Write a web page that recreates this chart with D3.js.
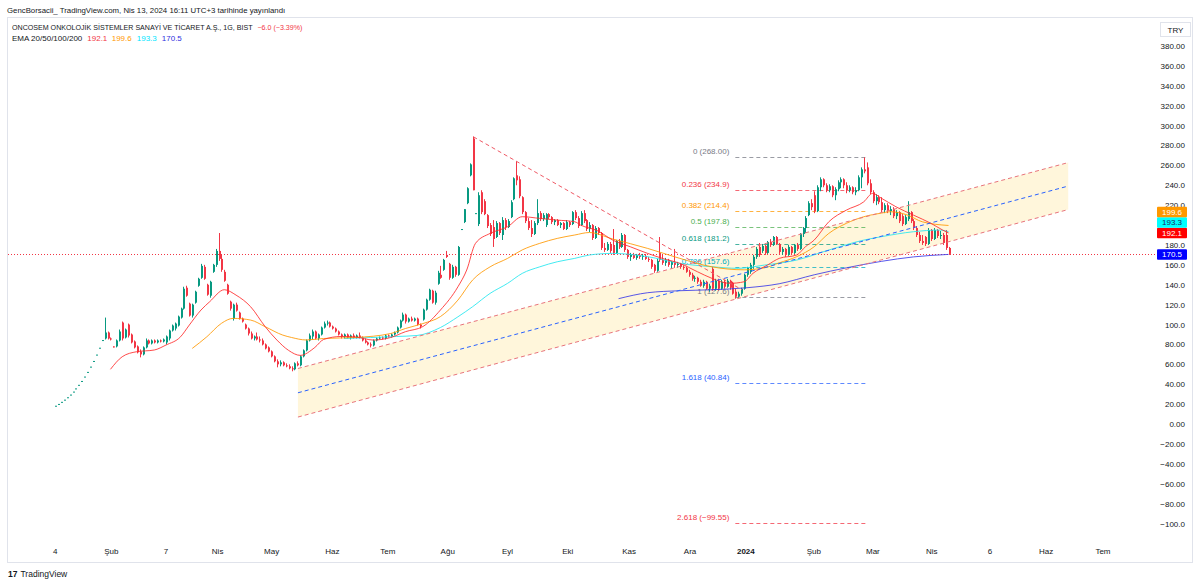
<!DOCTYPE html>
<html>
<head>
<meta charset="utf-8">
<script src="https://cdn.jsdelivr.net/npm/d3@7"></script>
<style>
html,body{margin:0;padding:0;background:#ffffff;}
svg{display:block;}
text{font-family:"Liberation Sans",Arial,sans-serif;}
</style>
</head>
<body>
<svg id="chart" width="1200" height="583"></svg>
<script>
// ---------------- DATA ----------------
// daily OHLC (bars 0-16: limit-up days, open=high=low=close)
const opens = [
18.4,20.2,22.3,24.5,26.9,29.6,32.6,35.8,39.4,43.3,47.7,52.4,57.7,63.4,69.8,76.7,84.4,
86,92,86,
78,78,84,102,87,100,90,83,78,73,
70,77,84,81,84,82,84,83,82,86,
94,96,99,107,116,137,121,109,122,139,
147,158,140,129,153,160,174,166,153,140,
123,106,120,112,106,100,96,91,86,88,
85,84,80,77,73,68,63,60,62,59,
58,56,55,61,59,68,74,84,88,93,
86,90,97,101,102,98,96,93,90,88,
90,87,89,87,89,87,84,82,80,79,
84,86,87,86,89,88,90,92,97,104,
110,103,106,104,106,100,105,115,125,134,
122,141,150,155,170,161,147,158,150,196,
203,222,250,287,212,201,233,224,210,200,
198,188,202,190,205,198,208,226,250,246,
228,213,204,197,191,202,212,206,200,211,
208,203,205,200,202,196,203,201,213,207,
200,212,205,196,200,187,197,192,177,175,
181,180,172,184,178,190,175,168,170,167,
170,168,169,166,165,160,154,172,165,162,
165,160,163,160,161,158,157,153,150,146,
147,143,139,143,136,156,136,144,136,143,
138,144,142,133,128,131,136,150,153,160,
168,178,174,179,172,183,180,188,181,173,
176,170,178,172,180,176,191,197,210,222,
230,214,238,246,240,235,239,230,236,243,
246,240,235,238,233,235,248,256,258,242,
233,224,228,223,215,220,214,216,209,213,
209,201,206,213,204,197,190,184,188,181,
195,186,195,189,190,190,177];
const highs = [
18.4,20.2,22.3,24.5,26.9,29.6,32.6,35.8,39.4,43.3,47.7,52.4,57.7,63.4,69.8,76.7,84.4,
107,93,87,
78,85,95,103,96,101,91,84,79,75,
78,86,85,85,85,85,85,86,89,95,
100,102,109,117,138,139,122,121,134,147,
161,160,141,144,161,176,192,170,155,141,
124,121,122,113,107,101,97,93,89,92,
88,86,81,78,74,69,65,64,63,61,
60,58,62,63,69,75,85,91,95,94,
91,98,103,104,103,99,97,94,91,91,
91,90,91,90,92,88,86,83,82,85,
87,88,88,90,90,91,93,98,105,112,
111,107,108,107,107,101,116,126,136,135,
134,154,159,166,174,162,160,159,179,196,
216,238,262,289,212,233,235,226,211,202,
205,204,203,208,207,206,225,248,264,249,
229,214,207,205,204,226,214,212,212,212,
209,206,206,203,203,205,204,214,215,209,
214,215,206,203,201,199,198,193,182,183,
183,196,185,186,192,191,176,172,172,171,
172,171,171,168,166,161,166,188,170,167,
166,164,176,163,162,160,158,155,152,149,
148,145,145,144,141,158,146,146,145,145,
146,145,143,136,133,137,151,158,162,170,
178,182,181,180,184,186,189,189,182,178,
177,180,179,181,182,192,198,209,224,226,
234,240,248,247,242,241,240,238,245,248,
247,243,240,239,238,250,258,268,263,246,
235,231,230,228,222,222,219,218,215,214,
211,210,224,214,206,199,193,190,189,197,
196,197,196,194,192,195,178];
const lows = [
18.4,20.2,22.3,24.5,26.9,29.6,32.6,35.8,39.4,43.3,47.7,52.4,57.7,63.4,69.8,76.7,84.4,
85,85,84,
77,77,83,84,86,87,81,76,71,67,
69,76,80,80,81,81,82,82,80,84,
93,94,98,106,115,128,108,107,121,138,
146,145,129,127,152,158,164,153,143,130,
114,104,113,105,102,95,89,85,84,84,
82,79,75,72,67,62,57,58,58,57,
55,53,54,58,58,67,73,83,85,85,
84,89,96,99,97,95,92,89,86,86,
86,85,86,86,86,83,81,79,77,78,
83,85,85,85,87,87,89,91,96,103,
101,102,103,103,99,96,104,114,124,121,
120,140,146,154,167,145,146,148,149,196,
202,221,249,235,212,199,211,210,197,189,
178,187,190,185,195,197,207,225,240,227,
211,202,195,188,190,200,204,204,198,206,
201,200,199,197,195,195,198,200,205,197,
199,202,194,193,185,186,190,175,173,174,
172,170,171,176,177,173,166,164,166,165,
166,165,165,163,156,152,153,163,160,159,
158,156,157,157,156,155,152,148,144,143,
141,138,137,135,133,134,134,134,135,136,
137,135,130,126,127,129,135,148,151,156,
166,168,172,170,171,178,179,180,171,170,
168,169,170,171,174,175,188,192,209,215,
212,213,234,238,233,233,228,225,234,237,
237,232,233,231,230,234,237,252,240,231,
222,220,221,213,212,212,210,207,206,202,
199,200,204,202,195,188,182,180,179,180,
184,185,187,186,180,175,170];
const closes = [
18.4,20.2,22.3,24.5,26.9,29.6,32.6,35.8,39.4,43.3,47.7,52.4,57.7,63.4,69.8,76.7,84.4,
92,86,85,
77,84,93,86,95,89,82,77,72,70,
77,84,81,84,82,84,83,85,88,94,
99,101,108,116,136,129,109,120,133,146,
159,146,130,143,160,174,166,155,144,131,
116,120,114,106,103,96,91,86,88,85,
84,80,76,73,68,63,60,62,59,58,
56,55,61,59,68,74,84,89,93,86,
90,97,101,102,98,96,93,90,88,90,
87,89,87,89,87,84,82,80,79,84,
86,87,86,89,88,90,92,97,104,110,
103,106,104,106,100,98,115,125,135,122,
132,152,147,165,168,147,158,150,178,196,
216,237,261,235,212,230,213,211,199,191,
186,202,192,205,198,204,223,247,245,229,
213,204,197,191,202,212,206,210,211,208,
203,205,200,202,196,203,200,213,207,199,
212,204,196,200,187,197,192,177,175,181,
174,172,184,178,190,175,168,170,167,170,
168,169,166,165,158,154,164,165,162,165,
160,163,160,161,158,157,153,150,146,147,
143,139,143,136,139,136,144,136,143,138,
144,137,131,128,131,136,150,157,160,168,
176,170,179,172,183,180,188,181,173,176,
170,178,172,180,176,191,197,207,222,218,
214,238,246,240,235,239,230,236,243,246,
240,235,238,233,235,248,256,254,242,233,
224,228,223,215,220,214,216,209,213,204,
201,208,213,204,197,190,184,182,181,195,
186,195,189,190,182,177,171];

// EMA readings (bar index, value)
const ema20Idx = [19,23,28,34,38,43,46,50,53,58,62,67,72,76,80,84,89,92,98,103,109,115,120,126,132,138,141,144,149,155,160,166,172,178,180,186,191,197,203,208,214,220,225,231,236,239,244,248,254,257,260,265,271,277,280,283,288,294,300,304,306];
const ema20Val = [55,67.6,72.7,74.4,79.4,87.7,99.5,114.6,123,135,129.6,117.9,97.8,84.4,74,69,77,85,88,87.5,84.4,87,92.8,98,114.6,138,154.8,181.6,191.6,198.3,208.4,206.7,205,203.3,200,194,184.9,178.2,171.5,166.5,161.5,153.1,146.4,141.4,143,151.4,159.8,166.5,169.9,178.2,184.9,203.3,215,223.4,231.8,227,218.4,210,201.7,195,192.1];
const ema50Idx = [47,52,57,61,67,72,78,81,86,92,103,115,120,126,132,138,143,149,155,160,166,172,178,183,191,203,214,225,236,243,248,254,260,265,271,277,283,286,292,297,306];
const ema50Val = [76,87.7,101.2,106.2,104.5,97.8,89.4,87,84.5,86,87,91,96,101,108,124.6,144.7,158,166.5,175,181.6,186.6,190,192.5,186,176.5,166.5,158,155,157,162,168.2,178.2,191.6,201.7,208.4,212,213.4,210,203.3,199.6];
const ema100Idx = [99,117,124,132,138,143,149,155,160,166,172,178,183,191,203,214,225,234,243,254,265,277,283,294,303,306];
const ema100Val = [86,88,89,97,107.8,117.9,131.3,141.4,151.4,158,163.1,166.5,169.9,171.5,168.2,161.5,158.1,156.5,159.8,164.8,174.9,184.9,188.3,193.3,195,193.3];
const ema200Idx = [193,203,214,225,237,248,260,271,283,294,306];
const ema200Val = [126,132,134,135,137,141,150,157,163.5,168,170.5];

// Fibonacci retracement
const fibLabels = ["0 (268.00)","0.236 (234.9)","0.382 (214.4)","0.5 (197.8)","0.618 (181.2)","0.786 (157.6)","1 (127.6)","1.618 (40.84)","2.618 (\u221299.55)"];
const fibPrices = [268,234.9,214.4,197.8,181.2,157.6,127.6,40.84,-99.55];
const fibRange = [233, 278];

// Parallel channel anchors (bar index, price)
const chanIdx = [83.2, 347];
const chanUpper = [55.8, 262.8];
const chanMid = [31.4, 239.2];
const chanLower = [7, 215.6];
// Down trend line anchors
const trendIdx = [143.3, 235.3];
const trendVal = [288.7, 134.9];

// Axis labels (200.0 is hidden behind the EMA value boxes in the reference)
const priceTicks = [380,360,340,320,300,280,260,240,220,180,160,140,120,100,80,60,40,20,0,-20,-40,-60,-80,-100];
const priceTickText = ["380.00","360.00","340.00","320.00","300.00","280.00","260.00","240.0","220.0","180.0","160.0","140.0","120.0","100.0","80.00","60.00","40.00","20.00","0.00","\u221220.00","\u221240.00","\u221260.00","\u221280.00","\u2212100.0"];
const timeLabels = ["4","\u015eub","7","Nis","May","Haz","Tem","A\u011fu","Eyl","Eki","Kas","Ara","2024","\u015eub","Mar","Nis","6","Haz","Tem"];
const timeIdx = [0.1,19.3,38,55.7,74.2,95,114,134.5,155,175.6,196.6,217.5,236.6,259.9,280.1,300.3,320.2,339.4,358.9];

const emaLast = [192.1,199.6,193.3,170.5];
const lastClose = 171;

// ---------------- DRAW ----------------
const svg = d3.select("#chart");
const x = d3.scaleLinear().domain([0, 306]).range([55, 948.5]);
const y = d3.scaleLinear().domain([-100, 380]).range([523.5, 46]);

const green = "#089981", red = "#f23645";
const emaColors = ["#ff2a2a", "#ff9800", "#22e6ee", "#3a3ae8"];
const boxColors = ["#ff0000", "#ff9800", "#00ffff", "#0000ff"];
const fibColors = ["#787b86","#f23645","#ff9800","#4caf50","#089981","#00acc1","#787b86","#2962ff","#f23645"];

svg.append("rect").attr("width",1200).attr("height",583).attr("fill","#fff");

const defs = svg.append("defs");
defs.append("clipPath").attr("id","plotclip").append("rect")
  .attr("x",8).attr("y",18).attr("width",1148).attr("height",522);

// frame
svg.append("rect").attr("x",7.5).attr("y",17.5).attr("width",1185).attr("height",545)
  .attr("fill","none").attr("stroke","#e0e3eb");

const plot = svg.append("g").attr("clip-path","url(#plotclip)");

// channel fill
const chanPoly = [[chanIdx[0],chanUpper[0]],[chanIdx[1],chanUpper[1]],[chanIdx[1],chanLower[1]],[chanIdx[0],chanLower[0]]];
plot.append("path")
  .attr("d", "M" + chanPoly.map(p => [x(p[0]), y(p[1])].join(",")).join("L") + "Z")
  .attr("fill","#fff4d2").attr("fill-opacity",0.8);

// fib lines + labels
const fibText = plot.append("g");
fibPrices.forEach((p,k) => {
  plot.append("line")
    .attr("x1", x(fibRange[0])).attr("x2", x(fibRange[1]))
    .attr("y1", Math.round(y(p))+0.5).attr("y2", Math.round(y(p))+0.5)
    .attr("stroke", fibColors[k]).attr("stroke-opacity",0.75)
    .attr("stroke-dasharray","4,3").attr("stroke-width",1);
  fibText.append("text")
    .attr("x", x(fibRange[0]) - 6).attr("y", y(p) - 3)
    .attr("text-anchor","end").attr("font-size",8)
    .attr("fill", fibColors[k]).text(fibLabels[k]);
});

// last price line
plot.append("line")
  .attr("x1",8).attr("x2",1158)
  .attr("y1",Math.round(y(lastClose))+0.5).attr("y2",Math.round(y(lastClose))+0.5)
  .attr("stroke",red).attr("stroke-dasharray","1,2").attr("stroke-width",1);

// candles
const bars = d3.range(closes.length);
const cg = plot.append("g");
cg.selectAll("line.wick").data(bars).join("line").attr("class","wick")
  .attr("x1", i => Math.round(x(i)) + 0.5).attr("x2", i => Math.round(x(i)) + 0.5)
  .attr("y1", i => y(highs[i])).attr("y2", i => y(lows[i]))
  .attr("stroke", i => closes[i] >= opens[i] ? green : red).attr("stroke-width",1);
cg.selectAll("rect.body").data(bars).join("rect").attr("class","body")
  .attr("x", i => Math.round(x(i)))
  .attr("width", 2)
  .attr("y", i => Math.min(y(opens[i]), y(closes[i])))
  .attr("height", i => Math.max(1, Math.abs(y(opens[i]) - y(closes[i]))))
  .attr("fill", i => closes[i] >= opens[i] ? green : red);

// EMA lines
const lineGen = d3.line().x(d => x(d[0])).y(d => y(d[1])).curve(d3.curveMonotoneX);
[[ema200Idx,ema200Val],[ema100Idx,ema100Val],[ema50Idx,ema50Val],[ema20Idx,ema20Val]].forEach((s,k) => {
  const ci = 3 - k;
  plot.append("path").datum(d3.zip(s[0], s[1]))
    .attr("d", lineGen).attr("fill","none")
    .attr("stroke", emaColors[ci]).attr("stroke-width",1).attr("stroke-opacity",0.85);
});

// channel lines
const seg = (ix, vals, color) => plot.append("line")
  .attr("x1", x(ix[0])).attr("y1", y(vals[0])).attr("x2", x(ix[1])).attr("y2", y(vals[1]))
  .attr("stroke", color).attr("stroke-width",1).attr("stroke-dasharray","4,3");
seg(chanIdx, chanUpper, "#e8747c");
seg(chanIdx, chanLower, "#e8747c");
seg(chanIdx, chanMid, "#2962ff");
seg(trendIdx, trendVal, "#ef5a66");

// price axis ticks
priceTicks.forEach((v,k) => {
  svg.append("text").attr("x",1185).attr("y", y(v) + 3)
    .attr("text-anchor","end").attr("font-size",8).attr("fill","#131722")
    .text(priceTickText[k]);
});

// EMA value boxes (stacked to avoid overlap)
const order = d3.range(4).sort((a,b) => emaLast[a] - emaLast[b]);
let prevY = 1e9;
const boxH = 10.5;
order.forEach(k => {
  let cy = y(emaLast[k]);
  if (cy > prevY - boxH) cy = prevY - boxH;
  prevY = cy;
  svg.append("rect").attr("x",1157).attr("y",cy - boxH/2).attr("width",30).attr("height",boxH)
    .attr("fill", boxColors[k]).attr("rx",1);
  svg.append("text").attr("x",1172).attr("y",cy + 3).attr("text-anchor","middle")
    .attr("font-size",8).attr("fill", k === 2 ? "#1c2a5a" : "#ffffff").text(emaLast[k].toFixed(1));
});

// TRY box
svg.append("rect").attr("x",1160.5).attr("y",22.5).attr("width",30).attr("height",14)
  .attr("fill","#fff").attr("stroke","#e0e3eb");
svg.append("text").attr("x",1175.5).attr("y",32.5).attr("text-anchor","middle")
  .attr("font-size",8).attr("fill","#131722").text("TRY");

// time axis
timeLabels.forEach((t,k) => {
  svg.append("text").attr("x", x(timeIdx[k])).attr("y",554).attr("text-anchor","middle")
    .attr("font-size",8).attr("fill","#131722")
    .attr("font-weight", t === "2024" ? "bold" : null).text(t);
});

// header texts
svg.append("text").attr("x",7).attr("y",12.5).attr("font-size",7.8).attr("fill","#131722")
  .text("GencBorsacii_ TradingView.com, Nis 13, 2024 16:11 UTC+3 tarihinde yay\u0131nland\u0131");
const t1 = svg.append("text").attr("x",12).attr("y",29.5).attr("font-size",7.1).attr("fill","#131722");
t1.append("tspan").text("ONCOSEM ONKOLOJ\u0130K S\u0130STEMLER SANAY\u0130 VE T\u0130CARET A.\u015e., 1G, BIST");
t1.append("tspan").attr("dx",5).attr("fill",red).text("\u22126.0 (\u22123.39%)");
const t2 = svg.append("text").attr("x",12).attr("y",41).attr("font-size",8).attr("fill","#131722");
t2.append("tspan").text("EMA 20/50/100/200");
emaLast.forEach((v,k) => {
  t2.append("tspan").attr("dx",5).attr("fill", ["#f23645","#ff9800","#00e5ff","#3030e0"][k]).text(v.toFixed(1));
});

// logo
const logo = svg.append("text").attr("x",8).attr("y",577).attr("font-size",8.5).attr("fill","#131722");
logo.append("tspan").attr("font-weight","bold").text("17");
logo.append("tspan").attr("dx",3).text("TradingView");
</script>
</body>
</html>
